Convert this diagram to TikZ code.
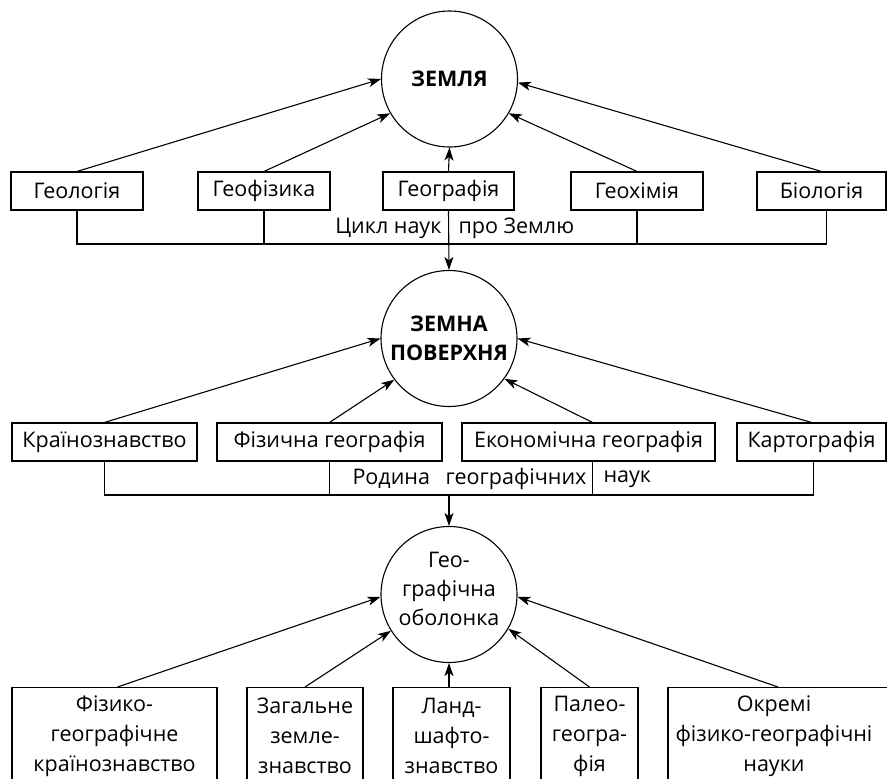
\documentclass[tikz,border=0pt]{standalone}
\usepackage{fontspec}
\setmainfont{Open Sans}
\usetikzlibrary{arrows.meta}
\begin{document}
\begin{tikzpicture}[x=1pt,y=-1pt,
  line width=1.1pt,
  every node/.style={font=\fontsize{21.5}{31}\selectfont},
  box/.style={draw, rectangle, inner sep=0pt, minimum height=38pt, anchor=center},
  tallbox/.style={draw, rectangle, inner sep=0pt, minimum height=120pt, anchor=north},
  talltext/.style={inner sep=0pt, align=center, anchor=center, font=\fontsize{21.5}{30}\selectfont},
  circ/.style={draw, circle, minimum size=136pt, inner sep=0pt, align=center},
  arr/.style={-{Stealth[length=13pt,width=9pt,inset=3.5pt]}},
  lbl/.style={inner sep=0pt}
]
\useasboundingbox (0,0) rectangle (887,779);
\clip (0,0) rectangle (887,779);

% circles
\node[circ, font=\fontsize{21.5}{29}\selectfont\bfseries] (c1) at (449.5,79) {ЗЕМЛЯ};
\node[circ, font=\fontsize{21.5}{29}\selectfont\bfseries] (c2) at (449,338.5) {ЗЕМНА\\ПОВЕРХНЯ};
\node[circ] (c3) at (449,594.5) {};
\node[talltext, font=\fontsize{21.5}{29}\selectfont] (c3t) at (449,589) {Гео-\\графічна\\оболонка};

% row 1
\node[box, minimum width=132pt] (geol) at (77,191) {Геологія};
\node[box, minimum width=132pt] (geof) at (264,191) {Геофізика};
\node[box, minimum width=131pt] (geogr) at (448.5,191) {Географія};
\node[box, minimum width=132pt] (geoch) at (637,191) {Геохімія};
\node[box, minimum width=129pt] (bio) at (821.5,191) {Біологія};

\draw[arr] (geol.north) -- (c1.180);
\draw[arr] (geof.north) -- (c1.210);
\draw[arr] (geogr.north) -- (c1.south);
\draw[arr] (geoch.north) -- (c1.330);
\draw[arr] (bio.north) -- (c1.357);

\coordinate (b1) at (449,244);
\draw (geol.south) |- ([xshift=5pt]bio.south |- b1) -- ([xshift=5pt]bio.south);
\draw (geof.south) -- (geof.south |- b1);
\draw (geoch.south) -- (geoch.south |- b1);
\draw[arr] (geogr.south) -- (c2.north);
\node[lbl, anchor=east] (t1a) at (442,228) {Цикл наук};
\node[lbl, anchor=west] (t1b) at (458,228) {про Землю};

% row 2
\node[box, minimum width=185pt] (kr) at (104.5,442) {Країнознавство};
\node[box, minimum width=225pt] (fiz) at (329.5,442) {Фізична географія};
\node[box, minimum width=253pt] (ek) at (588.5,442) {Економічна географія};
\node[box, minimum width=149pt] (kart) at (811.5,442) {Картографія};

\draw[arr] (kr.north) -- (c2.180);
\draw[arr] (fiz.north) -- (c2.217);
\draw[arr] ([xshift=4pt]ek.north) -- (c2.324);
\draw[arr] (kart.north) -- (c2.0);

\coordinate (b2) at (449,495);
\draw (kr.south) |- ([xshift=2pt]kart.south |- b2) -- ([xshift=2pt]kart.south);
\draw (fiz.south) -- (fiz.south |- b2);
\draw ([xshift=4pt]ek.south) -- ([xshift=4pt]ek.south |- b2);
\draw[arr] (b2) -- (c3.north);
\node[lbl, anchor=west] (t2a) at (352,479) {Родина};
\node[lbl, anchor=east] (t2b) at (587,479) {географічних};
\node[lbl, anchor=west] (t2c) at (603,479) {наук};

% row 3
\node[tallbox, minimum width=205pt] (r1) at (114.5,687) {};
\node[tallbox, minimum width=116pt] (r2) at (305,687) {};
\node[tallbox, minimum width=117pt] (r3) at (451.5,687) {};
\node[tallbox, minimum width=97pt] (r4) at (589.5,687) {};
\node[tallbox, minimum width=220pt] (r5) at (778,687) {};
\node[talltext] (r1t) at (114.5,736) {Фізико-\\географічне\\країнознавство};
\node[talltext] (r2t) at (305,736) {Загальне\\земле-\\знавство};
\node[talltext] (r3t) at (451.5,736) {Ланд-\\шафто-\\знавство};
\node[talltext] (r4t) at (589.5,736) {Палео-\\геогра-\\фія};
\node[talltext] (r5t) at (774,736) {Окремі\\фізико-географічні\\науки};

\draw[arr] ([xshift=3pt]r1.north) -- (c3.182);
\draw[arr] (r2.north) -- (c3.212);
\draw[arr] ([xshift=-2.5pt]r3.north) -- (c3.south);
\draw[arr] (r4.north) -- (c3.330);
\draw[arr] (r5.north) -- (c3.358);
\end{tikzpicture}
\end{document}
